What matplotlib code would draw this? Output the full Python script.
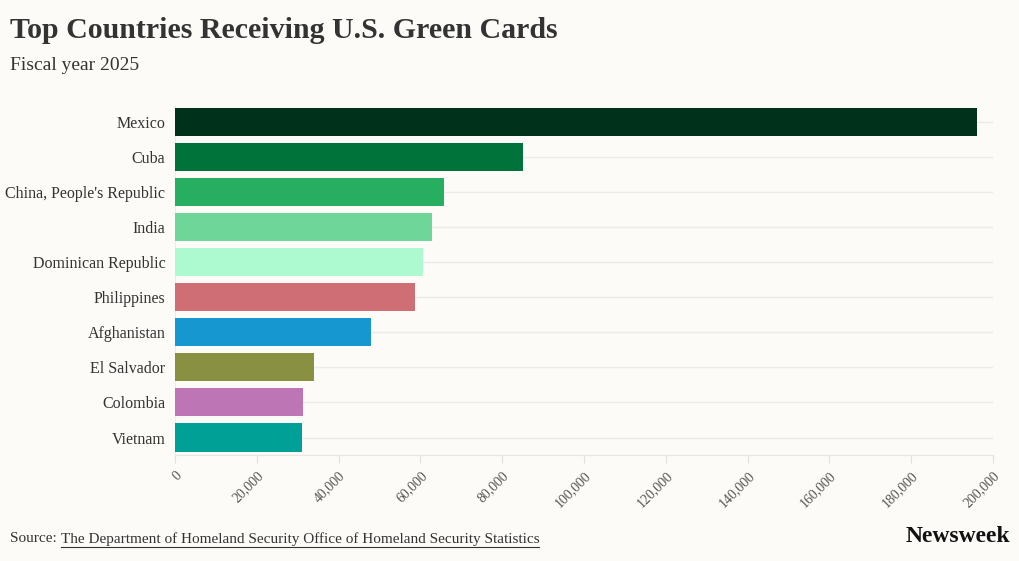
import numpy as np
import matplotlib
matplotlib.use("Agg")
import matplotlib.pyplot as plt
from matplotlib.lines import Line2D

countries = ["Mexico", "Cuba", "China, People's Republic", "India", "Dominican Republic",
             "Philippines", "Afghanistan", "El Salvador", "Colombia", "Vietnam"]
green_cards = [196000, 85000, 65700, 62800, 60700, 58600, 47800, 34000, 31200, 31000]
colors = ["#00321b", "#00733b", "#27ae60", "#6fd69a", "#adf9d0",
          "#cf6e74", "#1797cf", "#8a9042", "#bd75b5", "#00a096"]
xticks = np.arange(0, 200001, 20000)

bg = "#fcfbf7"
serif = "Liberation Serif"

fig = plt.figure(figsize=(10.2, 5.61), dpi=100, facecolor=bg)
ax = fig.add_axes([0.1716, 0.1889, 0.8020, 0.6248], facecolor=bg)

ypos = np.arange(len(countries))
ax.barh(ypos, green_cards, height=0.8, color=colors, zorder=3)
ax.set_ylim(len(countries) - 0.5, -0.5)
ax.set_xlim(0, 200000)

# gridlines at category centres, behind bars
for y in ypos:
    ax.axhline(y, color="#ebebe7", lw=1, zorder=1)

ax.set_yticks(ypos)
ax.set_yticklabels(countries, fontfamily=serif, fontsize=11.5, color="#333333")
ax.tick_params(axis="y", length=0, pad=7)

ax.set_xticks(xticks)
ax.set_xticklabels([f"{v:,}" for v in xticks], fontfamily=serif, fontsize=10,
                   color="#555555", rotation=45, ha="right", va="top",
                   rotation_mode="anchor")
ax.tick_params(axis="x", length=6, color="#e0e0dc", pad=4)

for s in ["top", "right"]:
    ax.spines[s].set_visible(False)
ax.spines["left"].set_color("#ebebe7")
ax.spines["bottom"].set_color("#e6e6e2")

fig.text(10 / 1020, 1 - 30 / 561, "Top Countries Receiving U.S. Green Cards",
         fontfamily=serif, fontweight="bold", fontsize=21.5, color="#333333",
         va="center", ha="left")
fig.text(10 / 1020, 1 - 65 / 561, "Fiscal year 2025", fontfamily=serif,
         fontsize=14, color="#333333", va="center", ha="left")

src = fig.text(10 / 1020, 1 - 539 / 561, "Source: ", fontfamily=serif,
               fontsize=11, color="#333333", va="center", ha="left")
fig.canvas.draw()
bb = src.get_window_extent()
link = fig.text(bb.x1 / 1020, 1 - 539 / 561,
                "The Department of Homeland Security Office of Homeland Security Statistics",
                fontfamily=serif, fontsize=11, color="#333333", va="center", ha="left")
fig.canvas.draw()
lb = link.get_window_extent()
fig.add_artist(Line2D([lb.x0 / 1020, lb.x1 / 1020], [(lb.y0 - 1) / 561] * 2,
                      color="#333333", lw=0.8, transform=fig.transFigure))

fig.text(1010 / 1020, 1 - 537 / 561, "Newsweek", fontfamily=serif, fontweight="bold",
         fontsize=17, color="#111111", va="center", ha="right")

fig.savefig("out.png", dpi=100, facecolor=bg)
